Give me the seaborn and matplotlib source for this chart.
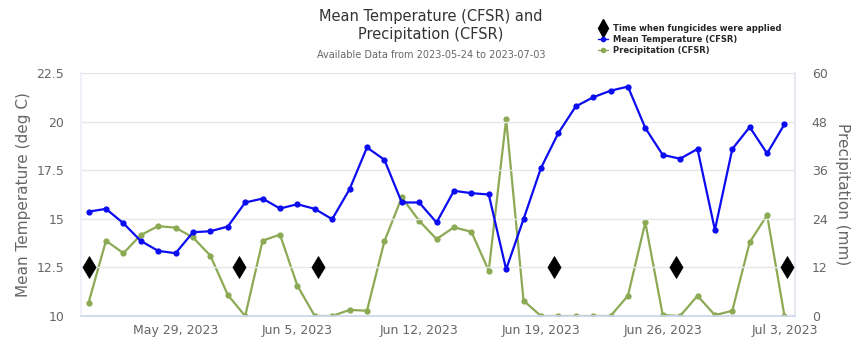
import matplotlib
matplotlib.use("Agg")
import matplotlib.pyplot as plt
from matplotlib.lines import Line2D
import numpy as np
import pandas as pd
import seaborn as sns

# Daily series, 2023-05-24 .. 2023-07-03
start_date = "2023-05-24"
end_date = "2023-07-03"
mean_temp = [15.37, 15.51, 14.77, 13.86, 13.35, 13.23, 14.31, 14.36, 14.60, 15.84,
             16.04, 15.53, 15.75, 15.51, 14.98, 16.52, 18.67, 18.04, 15.84, 15.84,
             14.81, 16.44, 16.32, 16.25, 12.40, 14.98, 17.61, 19.41, 20.78, 21.25,
             21.59, 21.80, 19.67, 18.29, 18.09, 18.59, 14.43, 18.59, 19.72, 18.36,
             19.87]
precip = [3.3, 18.6, 15.5, 20.0, 22.2, 21.8, 19.4, 14.9, 5.2, 0.0,
          18.6, 20.1, 7.5, 0.0, 0.0, 1.5, 1.3, 18.4, 29.3, 23.5,
          19.0, 21.9, 20.8, 11.2, 48.6, 3.8, 0.0, 0.0, 0.0, 0.0,
          0.0, 5.0, 23.1, 0.25, 0.0, 5.0, 0.2, 1.3, 18.2, 24.9,
          0.0]
# Fungicide application times
fungicide_times = ["2023-05-24 00:00", "2023-06-01 15:00", "2023-06-06 04:00",
                   "2023-06-19 18:00", "2023-06-26 19:00", "2023-07-03 04:00"]
fungicide_level = 12.5

title_text = "Mean Temperature (CFSR) and\nPrecipitation (CFSR)"
subtitle_text = "Available Data from 2023-05-24 to 2023-07-03"
tick_dates = ["2023-05-29", "2023-06-05", "2023-06-12", "2023-06-19", "2023-06-26", "2023-07-03"]
tick_labels = ["May 29, 2023", "Jun 5, 2023", "Jun 12, 2023", "Jun 19, 2023", "Jun 26, 2023", "Jul 3, 2023"]

dates = pd.date_range(start_date, end_date, freq="D")
df = pd.DataFrame({"date": dates, "temp": mean_temp, "precip": precip})
df_f = pd.DataFrame({"date": pd.to_datetime(fungicide_times),
                     "level": [fungicide_level] * len(fungicide_times)})

sns.set_theme(style="white")
plt.rcParams["font.family"] = ["DejaVu Sans"]

BLUE = "#0c0cf0"
GREEN = "#8ca954"
GRID = "#e6e6e6"
AXIS = "#ccd6eb"
TXT = "#666666"

fig = plt.figure(figsize=(8.63, 3.40), dpi=100)
ax = fig.add_axes([81 / 863, 24 / 340, (795 - 81) / 863, (316 - 73) / 340])
ax2 = ax.twinx()

sns.lineplot(data=df, x="date", y="temp", ax=ax, color=BLUE, lw=1.6,
             marker="o", markersize=4.5, markeredgewidth=0, zorder=3)
sns.lineplot(data=df, x="date", y="precip", ax=ax2, color=GREEN, lw=1.6,
             marker="o", markersize=4.5, markeredgewidth=0, zorder=3)
sns.scatterplot(data=df_f, x="date", y="level", ax=ax, marker="d", s=125,
                color="black", edgecolor="black", linewidth=0.5, zorder=4)

# axes limits
x0 = pd.Timestamp(start_date) - pd.Timedelta(hours=10.5)
x1 = pd.Timestamp(end_date) + pd.Timedelta(hours=14.5)
ax.set_xlim(x0, x1)
ax.set_ylim(10, 22.5)
ax2.set_ylim(0, 60)
ax.set_yticks([10, 12.5, 15, 17.5, 20, 22.5])
ax.set_yticklabels(["10", "12.5", "15", "17.5", "20", "22.5"])
ax2.set_yticks([0, 12, 24, 36, 48, 60])

ax.set_xticks(pd.to_datetime(tick_dates))
ax.set_xticklabels(tick_labels)

ax.grid(axis="y", color=GRID, lw=1)
ax.set_axisbelow(True)
ax2.grid(False)
ax2.set_zorder(ax.get_zorder() - 1)
ax.patch.set_visible(False)

for a in (ax, ax2):
    for s in a.spines.values():
        s.set_visible(False)
ax.spines["bottom"].set_visible(True)
ax.spines["bottom"].set_color(AXIS)
ax.spines["left"].set_visible(True)
ax.spines["left"].set_color("#eef0f7")
ax2.spines["right"].set_visible(True)
ax2.spines["right"].set_color("#e4e6f0")

ax.tick_params(axis="x", colors=AXIS, length=4, width=1, labelcolor=TXT,
               labelsize=9, pad=1.5)
ax.tick_params(axis="y", length=0, labelcolor=TXT, labelsize=9, pad=12)
ax2.tick_params(axis="y", length=0, labelcolor=TXT, labelsize=9, pad=12)
# lift the right-hand tick labels a touch so the bottom one clears the date labels
for lbl in ax2.get_yticklabels():
    lbl.set_verticalalignment("center_baseline")

ax.set_xlabel("")
ax.set_ylabel("Mean Temperature (deg C)", color=TXT, fontsize=11, labelpad=4)
ax2.set_ylabel("Precipitation (mm)", color=TXT, fontsize=11, rotation=270,
               labelpad=16)

fig.text(431 / 863, 1 - 25 / 340, title_text, ha="center", va="center",
         fontsize=10.5, color="#333333", linespacing=1.25)
fig.text(431 / 863, 1 - 55 / 340, subtitle_text, ha="center", va="center",
         fontsize=7, color=TXT)

handles = [
    Line2D([], [], marker="d", color="black", ls="none", markersize=9),
    Line2D([], [], marker="o", color=BLUE, lw=1, markersize=3),
    Line2D([], [], marker="o", color=GREEN, lw=1, markersize=3),
]
labels = ["Time when fungicides were applied", "Mean Temperature (CFSR)",
          "Precipitation (CFSR)"]
fig.legend(handles, labels, loc="upper left",
           bbox_to_anchor=(598 / 863, 1 - 24 / 340), frameon=False,
           prop={"weight": "bold", "size": 6}, handlelength=1.2,
           handletextpad=0.6, labelspacing=0.25, borderpad=0, borderaxespad=0)

fig.savefig("out.png", dpi=100)
